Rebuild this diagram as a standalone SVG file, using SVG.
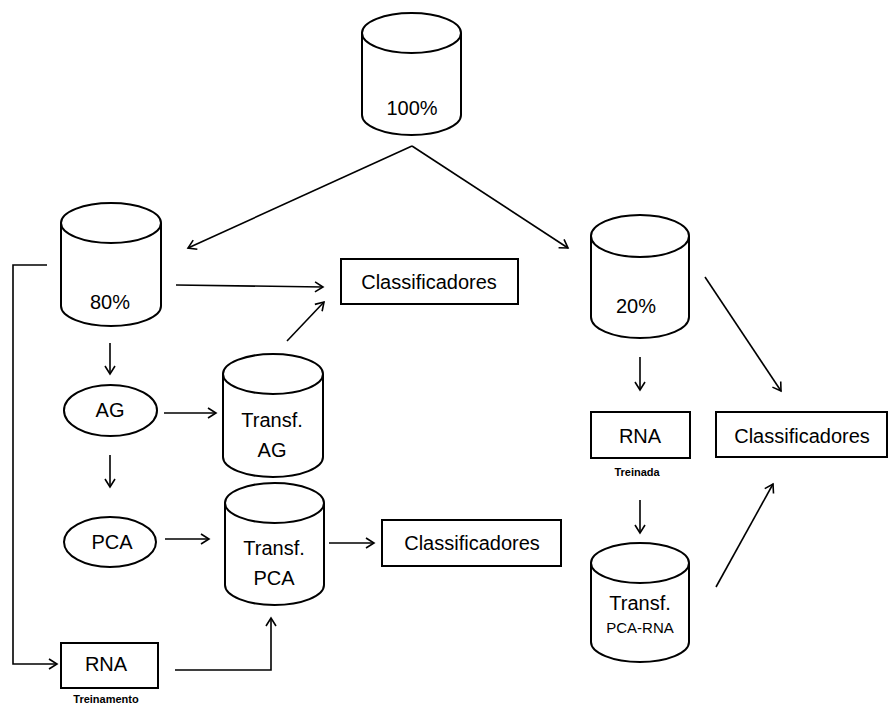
<svg xmlns="http://www.w3.org/2000/svg" width="889" height="707" viewBox="0 0 889 707">
  <style>
    .shape { fill: #ffffff; stroke: #000000; stroke-width: 2; }
    .edge { fill: none; stroke: #000000; stroke-width: 1.6; marker-end: url(#arrow); }
    .line { fill: none; stroke: #000000; stroke-width: 1.6; }
    text { font-family: "Liberation Sans", Arial, sans-serif; font-size: 20px; fill: #000000; text-anchor: middle; }
    .note { font-size: 11px; font-weight: bold; }
    .small { font-size: 15px; }
  </style>
  <defs>
    <marker id="arrow" markerUnits="userSpaceOnUse" markerWidth="14" markerHeight="14" refX="0" refY="0" viewBox="-10 -7 12 14" orient="auto" overflow="visible">
      <path d="M-8,-5 L0,0 L-8,5" fill="none" stroke="#000000" stroke-width="1.6" stroke-linejoin="miter"/>
    </marker>
  </defs>

  <!-- connectors -->
  <g id="connectors">
    <line class="edge" x1="412" y1="146" x2="188" y2="248"/>
    <line class="edge" x1="412" y1="146" x2="568" y2="248"/>
    <line class="edge" x1="176" y1="285" x2="323" y2="287"/>
    <line class="edge" x1="287" y1="341" x2="324" y2="302"/>
    <line class="edge" x1="110" y1="343" x2="110" y2="374"/>
    <line class="edge" x1="164" y1="413" x2="216" y2="413"/>
    <line class="edge" x1="110" y1="455" x2="110" y2="487"/>
    <line class="edge" x1="165" y1="539" x2="209" y2="539"/>
    <line class="edge" x1="329" y1="543" x2="374" y2="543"/>
    <polyline class="edge" points="47,265 13,265 13,664 57,664"/>
    <polyline class="edge" points="175,670 271,670 271,618"/>
    <line class="edge" x1="640" y1="357" x2="640" y2="390"/>
    <line class="edge" x1="640" y1="500" x2="640" y2="533"/>
    <line class="edge" x1="705" y1="277" x2="781" y2="391"/>
    <line class="edge" x1="716" y1="587" x2="773" y2="484"/>
  </g>

  <!-- data sets (cylinders) -->
  <g id="data-100">
    <path class="shape" d="M362,33 V115 A49.5,20 0 0 0 461,115 V33"/>
    <ellipse class="shape" cx="411.5" cy="33" rx="49.5" ry="20"/>
    <text x="412" y="115">100%</text>
  </g>

  <g id="data-80">
    <path class="shape" d="M61,223 V306 A50,20 0 0 0 161,306 V223"/>
    <ellipse class="shape" cx="111" cy="223" rx="50" ry="20"/>
    <text x="110" y="309">80%</text>
  </g>

  <g id="data-20">
    <path class="shape" d="M591,236 V317 A49,21 0 0 0 689,317 V236"/>
    <ellipse class="shape" cx="640" cy="236" rx="49" ry="21"/>
    <text x="636" y="313">20%</text>
  </g>

  <g id="transf-ag">
    <path class="shape" d="M223,374 V457 A50,20 0 0 0 323,457 V374"/>
    <ellipse class="shape" cx="273" cy="374" rx="50" ry="20"/>
    <text x="272" y="427">Transf.</text>
    <text x="272" y="457">AG</text>
  </g>

  <g id="transf-pca">
    <path class="shape" d="M225,503 V585 A49.5,20 0 0 0 324,585 V503"/>
    <ellipse class="shape" cx="274.5" cy="503" rx="49.5" ry="20"/>
    <text x="274" y="555">Transf.</text>
    <text x="274" y="585">PCA</text>
  </g>

  <g id="transf-pca-rna">
    <path class="shape" d="M591,563 V642 A49,20 0 0 0 689,642 V563"/>
    <ellipse class="shape" cx="640" cy="563" rx="49" ry="20"/>
    <text x="640" y="610">Transf.</text>
    <text class="small" x="640" y="633">PCA-RNA</text>
  </g>

  <!-- methods (ellipses) -->
  <g id="ag">
    <ellipse class="shape" cx="110.5" cy="410.5" rx="46.5" ry="25.5"/>
    <text x="110" y="417">AG</text>
  </g>

  <g id="pca">
    <ellipse class="shape" cx="110" cy="542" rx="46" ry="25"/>
    <text x="112" y="549">PCA</text>
  </g>

  <!-- networks and classifiers (boxes) -->
  <g id="rna-treinamento">
    <rect class="shape" x="61" y="643" width="97" height="45"/>
    <text x="106" y="671">RNA</text>
    <text class="note" x="106" y="703">Treinamento</text>
  </g>

  <g id="rna-treinada">
    <rect class="shape" x="591" y="412" width="99" height="46"/>
    <text x="640" y="443">RNA</text>
    <text class="note" x="637" y="476">Treinada</text>
  </g>

  <g id="classificadores-80">
    <rect class="shape" x="341" y="259" width="177" height="45"/>
    <text x="429" y="289">Classificadores</text>
  </g>

  <g id="classificadores-pca">
    <rect class="shape" x="382" y="520" width="179" height="46"/>
    <text x="472" y="550">Classificadores</text>
  </g>

  <g id="classificadores-20">
    <rect class="shape" x="716" y="412" width="171" height="45"/>
    <text x="802" y="443">Classificadores</text>
  </g>
</svg>
